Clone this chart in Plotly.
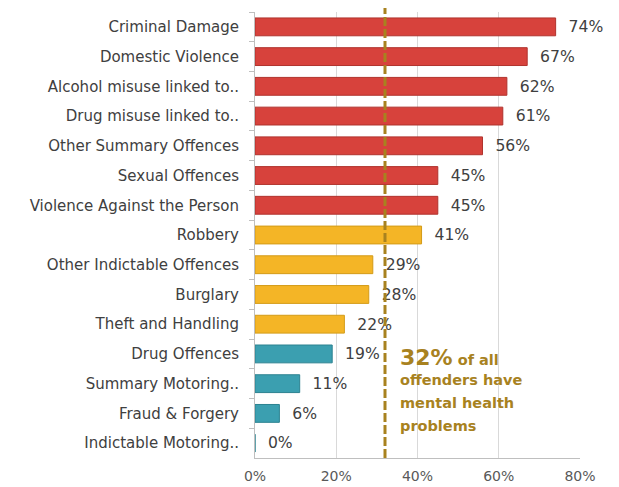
import plotly.graph_objects as go

categories = ["Criminal Damage", "Domestic Violence", "Alcohol misuse linked to..",
              "Drug misuse linked to..", "Other Summary Offences", "Sexual Offences",
              "Violence Against the Person", "Robbery", "Other Indictable Offences",
              "Burglary", "Theft and Handling", "Drug Offences", "Summary Motoring..",
              "Fraud & Forgery", "Indictable Motoring.."]
values = [74, 67, 62, 61, 56, 45, 45, 41, 29, 28, 22, 19, 11, 6, 0]
bands = ["high"] * 7 + ["mid"] * 4 + ["low"] * 4
overall = 32
note_lines = ["<span style='font-size:22px'>32%</span> of all", "offenders have",
              "mental health", "problems"]
tick_vals = [0, 20, 40, 60, 80]
tick_text = ["0%", "20%", "40%", "60%", "80%"]

band_colors = {"high": "#D7423C", "mid": "#F4B526", "low": "#3B9FB0"}
band_lines = {"high": "#B0332D", "mid": "#D39B18", "low": "#2C8290"}
gold = "#A8821F"

fig = go.Figure(go.Bar(
    y=categories, x=values, orientation="h",
    marker=dict(color=[band_colors[b] for b in bands],
                line=dict(color=[band_lines[b] for b in bands], width=1)),
    width=0.6,
    text=[f"\u00a0\u00a0{v}%" for v in values], textposition="outside",
    textfont=dict(size=17.5, color="#404040"),
    cliponaxis=False,
))

fig.add_shape(type="line", x0=overall, x1=overall, xref="x", yref="paper", y0=0, y1=1.016,
              line=dict(color=gold, width=3, dash="9px,3px"))

for i, line in enumerate(note_lines):
    fig.add_annotation(x=overall, xref="x", xanchor="left", xshift=13,
                       y=0.226, yref="paper", yanchor="middle", yshift=-23 * i,
                       showarrow=False, align="left", text=f"<b>{line}</b>",
                       font=dict(size=14.5, color=gold, family="DejaVu Sans"))

fig.update_layout(
    width=611, height=479,
    margin=dict(l=247, r=39, t=4, b=29),
    paper_bgcolor="white", plot_bgcolor="white",
    showlegend=False,
    font=dict(family="DejaVu Sans", color="#404040"),
    xaxis=dict(range=[0, 80], tickvals=tick_vals, ticktext=tick_text,
               showgrid=True, gridcolor="#D9D9D9", gridwidth=1,
               zeroline=False, showline=True, linecolor="#BFBFBF",
               ticks="", tickfont=dict(size=14, color="#595959"), ticklabelstandoff=5),
    yaxis=dict(autorange="reversed", showline=True, linecolor="#BFBFBF",
               ticks="outside", tickson="boundaries", ticklen=5, tickcolor="#BFBFBF",
               tickfont=dict(size=15, color="#404040"), ticklabelstandoff=12),
)

fig.write_html("out.html")
